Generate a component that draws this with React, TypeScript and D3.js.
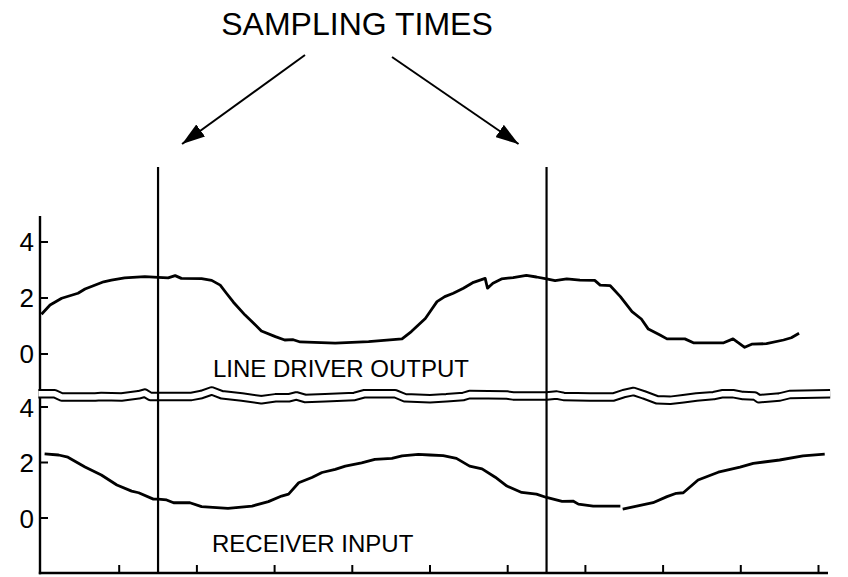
import React from 'react';
import * as d3 from 'd3';

const W = 848;
const H = 577;

const xTickValues = [1, 2, 3, 4, 5, 6, 7, 8, 9, 10];
const yTickValues = [0, 2, 4];
const yTickLabels = ['0', '2', '4'];
const samplingTimes = [1.5, 6.5];
const titleText = 'SAMPLING TIMES';
const upperLabel = 'LINE DRIVER OUTPUT';
const lowerLabel = 'RECEIVER INPUT';

// Line driver output (upper panel), [time, volts]
const driverOutput: [number, number][] = [
  [0.0, 1.42], [0.11, 1.75], [0.26, 1.99], [0.47, 2.17], [0.56, 2.32], [0.8, 2.58],
  [0.9, 2.64], [1.07, 2.72], [1.33, 2.76], [1.5, 2.74], [1.63, 2.72], [1.72, 2.8],
  [1.8, 2.7], [2.06, 2.69], [2.19, 2.63], [2.3, 2.46], [2.38, 2.17], [2.47, 1.85],
  [2.62, 1.39], [2.73, 1.1], [2.83, 0.82], [3.01, 0.62], [3.13, 0.5], [3.24, 0.51],
  [3.33, 0.43], [3.78, 0.39], [4.21, 0.44], [4.64, 0.54], [4.76, 0.8], [4.94, 1.27],
  [5.0, 1.51], [5.09, 1.87], [5.19, 2.05], [5.3, 2.17], [5.43, 2.35], [5.56, 2.56],
  [5.71, 2.7], [5.74, 2.35], [5.81, 2.53], [5.92, 2.68], [6.07, 2.73], [6.24, 2.81],
  [6.37, 2.75], [6.5, 2.68], [6.61, 2.62], [6.76, 2.68], [6.93, 2.64], [7.12, 2.63],
  [7.19, 2.46], [7.32, 2.44], [7.45, 2.05], [7.6, 1.51], [7.72, 1.25], [7.81, 0.89],
  [7.96, 0.68], [8.05, 0.54], [8.28, 0.54], [8.39, 0.4], [8.78, 0.4], [8.9, 0.54],
  [9.05, 0.24], [9.14, 0.35], [9.33, 0.37], [9.55, 0.5], [9.65, 0.58], [9.75, 0.74],
];

// Receiver input (lower panel), first segment
const receiverInputA: [number, number][] = [
  [0.04, 2.31], [0.22, 2.27], [0.34, 2.19], [0.56, 1.84], [0.77, 1.55], [0.97, 1.19],
  [1.16, 0.97], [1.25, 0.91], [1.44, 0.68], [1.5, 0.68], [1.61, 0.65], [1.7, 0.55],
  [1.91, 0.55], [2.06, 0.41], [2.4, 0.35], [2.71, 0.43], [2.92, 0.59], [3.09, 0.79],
  [3.18, 0.86], [3.31, 1.27], [3.48, 1.46], [3.61, 1.64], [3.78, 1.75], [3.91, 1.87],
  [4.12, 1.99], [4.29, 2.11], [4.51, 2.15], [4.64, 2.24], [4.85, 2.29], [5.0, 2.27],
  [5.17, 2.25], [5.34, 2.15], [5.51, 1.87], [5.67, 1.77], [5.84, 1.47], [5.99, 1.15],
  [6.18, 0.92], [6.37, 0.86], [6.5, 0.74], [6.7, 0.6], [6.84, 0.61], [6.91, 0.5],
  [7.1, 0.43], [7.45, 0.43],
];

// Receiver input (lower panel), second segment
const receiverInputB: [number, number][] = [
  [7.48, 0.32], [7.66, 0.43], [7.87, 0.55], [8.05, 0.77], [8.17, 0.89], [8.26, 0.91],
  [8.45, 1.37], [8.71, 1.65], [8.99, 1.83], [9.16, 1.97], [9.5, 2.09], [9.8, 2.24],
  [10.08, 2.3],
];

// Twisted-pair cable trace (lower panel units), centre of the double line
const cableTrace: [number, number][] = [
  [-0.04, 4.48], [0.17, 4.48], [0.26, 4.36], [0.69, 4.36], [0.77, 4.38], [1.03, 4.36],
  [1.25, 4.44], [1.33, 4.5], [1.4, 4.38], [1.93, 4.38], [2.06, 4.45], [2.19, 4.58],
  [2.32, 4.44], [2.58, 4.36], [2.83, 4.26], [3.01, 4.33], [3.18, 4.33], [3.28, 4.4],
  [3.39, 4.31], [3.65, 4.33], [4.03, 4.38], [4.16, 4.48], [4.55, 4.48], [4.68, 4.33],
  [5.0, 4.3], [5.21, 4.33], [5.43, 4.38], [5.51, 4.45], [5.99, 4.43], [6.07, 4.4],
  [6.5, 4.4], [6.63, 4.43], [6.72, 4.38], [7.06, 4.36], [7.36, 4.36], [7.49, 4.48],
  [7.62, 4.56], [7.75, 4.44], [7.92, 4.26], [8.09, 4.24], [8.26, 4.3], [8.43, 4.36],
  [8.65, 4.41], [8.77, 4.48], [8.9, 4.48], [9.03, 4.41], [9.18, 4.4], [9.23, 4.3],
  [9.5, 4.36], [9.63, 4.45], [10.15, 4.48],
];

const FONT = '"Liberation Sans", Arial, Helvetica, sans-serif';

export default function App() {
  const x = d3.scaleLinear().domain([0, 10]).range([41.5, 818.5]);
  const yTop = d3.scaleLinear().domain([0, 4]).range([354, 242]);
  const yBot = d3.scaleLinear().domain([0, 4]).range([518, 407]);

  const lineTop = d3.line<[number, number]>().x(d => x(d[0])).y(d => yTop(d[1]));
  const lineBot = d3.line<[number, number]>().x(d => x(d[0])).y(d => yBot(d[1]));

  const axisX = 40;
  const axisTop = 216;
  const axisBottom = 573;
  const axisRight = 828;
  const tickLen = 8;

  const arrowStarts: [number, number][] = [[305, 55], [392, 57]];
  const arrowTips: [number, number][] = samplingTimes.map((t, i) => [x(t) + (i === 0 ? 24 : -28), 144]);

  return (
    <svg width={W} height={H} style={{ position: 'absolute', left: 0, top: 0, background: '#fff' }}
      fontFamily={FONT}>
      <defs>
        <marker id="ah" viewBox="0 0 23 15" refX={23} refY={7.5} markerWidth={23} markerHeight={15}
          orient="auto" markerUnits="userSpaceOnUse">
          <path d="M0,0 L23,7.5 L0,15 Z" fill="#000" />
        </marker>
      </defs>
      <rect x={0} y={0} width={W} height={H} fill="#fff" />

      {/* title */}
      <text x={357} y={35} fontSize={32} textAnchor="middle" fill="#000">{titleText}</text>
      {arrowStarts.map((s, i) => (
        <line key={i} x1={s[0]} y1={s[1]} x2={arrowTips[i][0]} y2={arrowTips[i][1]}
          stroke="#000" strokeWidth={2} markerEnd="url(#ah)" />
      ))}

      {/* axes */}
      <line x1={axisX} y1={axisTop} x2={axisX} y2={axisBottom + 1.2} stroke="#000" strokeWidth={2.4} />
      <line x1={axisX - 1.2} y1={axisBottom} x2={axisRight} y2={axisBottom} stroke="#000" strokeWidth={2.4} />
      {xTickValues.map(v => (
        <line key={v} x1={x(v)} x2={x(v)} y1={axisBottom} y2={axisBottom - tickLen} stroke="#000" strokeWidth={2} />
      ))}
      {yTickValues.map((v, i) => (
        <g key={'t' + v}>
          <line x1={axisX} x2={axisX + tickLen} y1={yTop(v)} y2={yTop(v)} stroke="#000" strokeWidth={2} />
          <text x={34} y={yTop(v) + 9} fontSize={26} textAnchor="end" fill="#000">{yTickLabels[i]}</text>
          <line x1={axisX} x2={axisX + tickLen} y1={yBot(v)} y2={yBot(v)} stroke="#000" strokeWidth={2} />
          <text x={34} y={yBot(v) + 9.5} fontSize={26} textAnchor="end" fill="#000">{yTickLabels[i]}</text>
        </g>
      ))}

      {/* curves */}
      <path d={lineTop(driverOutput) || ''} fill="none" stroke="#000" strokeWidth={2.8} strokeLinejoin="round" />
      <path d={lineBot(receiverInputA) || ''} fill="none" stroke="#000" strokeWidth={2.8} strokeLinejoin="round" />
      <path d={lineBot(receiverInputB) || ''} fill="none" stroke="#000" strokeWidth={2.8} strokeLinejoin="round" />

      {/* cable double line */}
      <path d={lineBot(cableTrace) || ''} fill="none" stroke="#000" strokeWidth={9.5} strokeLinejoin="round" />
      <path d={lineBot(cableTrace) || ''} fill="none" stroke="#fff" strokeWidth={5.5} strokeLinejoin="round" />

      {/* labels */}
      <text x={213} y={377} fontSize={24} fill="#000">{upperLabel}</text>
      <text x={212} y={552} fontSize={24} fill="#000">{lowerLabel}</text>

      {/* sampling lines */}
      {samplingTimes.map(t => (
        <line key={t} x1={x(t)} x2={x(t)} y1={167} y2={axisBottom} stroke="#000" strokeWidth={2.2} />
      ))}
    </svg>
  );
}
